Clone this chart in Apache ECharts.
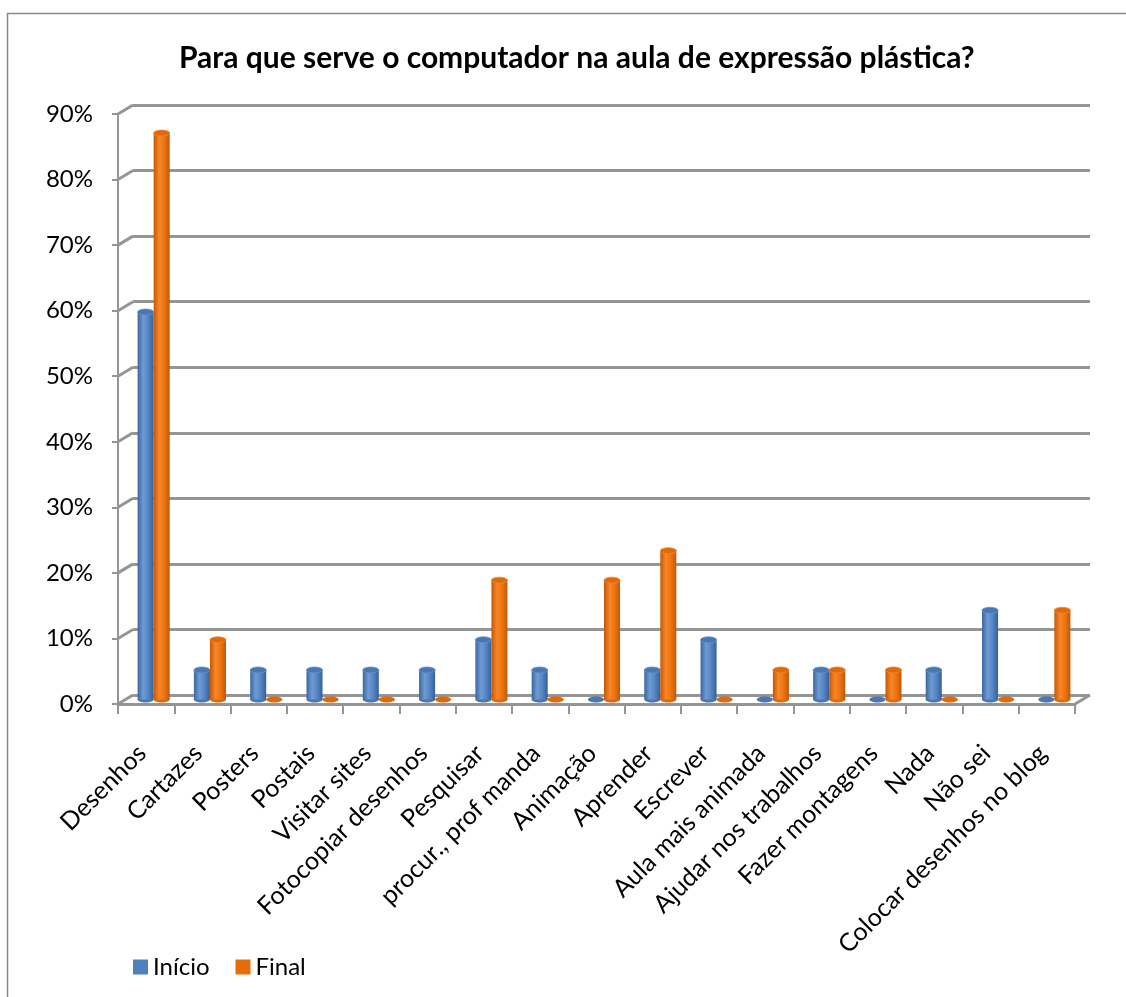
<!DOCTYPE html>
<html>
<head>
<meta charset="utf-8">
<script src="https://cdn.jsdelivr.net/npm/echarts@6/dist/echarts.min.js"></script>
<style>
  html, body { margin: 0; padding: 0; background: #ffffff; }
  #chart { width: 1126px; height: 997px; }
</style>
</head>
<body>
<div id="chart"></div>
<script>
// Survey answers, share of pupils (%), start vs end of the school year
const categories = [
  'Desenhos', 'Cartazes', 'Posters', 'Postais', 'Visitar sites', 'Fotocopiar desenhos',
  'Pesquisar', 'procur., prof manda', 'Animação', 'Aprender', 'Escrever',
  'Aula mais animada', 'Ajudar nos trabalhos', 'Fazer montagens', 'Nada', 'Não sei',
  'Colocar desenhos no blog'
];
const inicio = [59.1, 4.5, 4.5, 4.5, 4.5, 4.5, 9.1, 4.5, 0, 4.5, 9.1, 0, 4.5, 0, 4.5, 13.6, 0];
const finalVals = [86.4, 9.1, 0, 0, 0, 0, 18.2, 0, 18.2, 22.7, 0, 4.5, 4.5, 4.5, 0, 0, 13.6];
const yTicks = [0, 10, 20, 30, 40, 50, 60, 70, 80, 90];
const seriesNames = ['Início', 'Final'];

const FONT = 'Lato, "Open Sans", sans-serif';
const GRID_W = 957, GRID_H = 590;
const wallColor = '#959595';

// Cylinder fills for the two series
function cylFill(s) {
  if (s === 0) {
    return new echarts.graphic.LinearGradient(0, 0, 1, 0, [
      { offset: 0, color: '#3b66a0' },
      { offset: 0.35, color: '#6f9bd3' },
      { offset: 0.65, color: '#5686c4' },
      { offset: 1, color: '#35609a' }
    ]);
  }
  return new echarts.graphic.LinearGradient(0, 0, 1, 0, [
    { offset: 0, color: '#c45804' },
    { offset: 0.35, color: '#f8862a' },
    { offset: 0.65, color: '#ee7611' },
    { offset: 1, color: '#c25705' }
  ]);
}
const capColor = ['#4a77b3', '#e0690a'];
const legendColor = ['#4f81bd', '#e46c0a'];

function cylinderItem(s) {
  return function (params, api) {
    const idx = api.value(0);
    const v = api.value(1);
    const top = api.coord([idx, v]);
    const base = api.coord([idx, 0]);
    const band = api.size([1, 0])[0];
    const w = band * 0.285;
    const cx = top[0] + (s === 0 ? -w / 2 : w / 2);
    const ry = 3;
    const children = [];
    children.push({
      type: 'ellipse',
      shape: { cx: cx, cy: base[1], rx: w / 2, ry: ry },
      style: { fill: capColor[s] }
    });
    if (base[1] - top[1] > 0.5) {
      children.push({
        type: 'rect',
        shape: { x: cx - w / 2, y: top[1], width: w, height: base[1] - top[1] },
        style: { fill: cylFill(s) }
      });
      children.push({
        type: 'ellipse',
        shape: { cx: cx, cy: top[1], rx: w / 2, ry: ry },
        style: { fill: capColor[s], stroke: s === 0 ? '#6a94cb' : '#f38a33', lineWidth: 0.8 }
      });
    }
    return { type: 'group', children: children };
  };
}

// Short slanted strokes joining the front axis ticks to the back wall lines
function connectorItem(params, api) {
  const v = api.value(0);
  const p = api.coord([0, v]);
  const band = api.size([1, 0])[0];
  const x0 = p[0] - band / 2;
  const children = [{
    type: 'line',
    shape: { x1: x0, y1: p[1], x2: x0 + 15, y2: p[1] - 9 },
    style: { stroke: wallColor, lineWidth: 3 }
  }];
  if (v === 0) {
    const x1 = x0 + band * categories.length;
    children.push({
      type: 'line',
      shape: { x1: x1, y1: p[1], x2: x1 + 15, y2: p[1] - 9 },
      style: { stroke: wallColor, lineWidth: 3 }
    });
  }
  return { type: 'group', children: children };
}

const chart = echarts.init(document.getElementById('chart'), null, { renderer: 'canvas' });

const yBase = { type: 'value', min: 0, max: 90, interval: 10 };

chart.setOption({
  animation: false,
  backgroundColor: '#ffffff',
  title: {
    text: 'Para que serve o computador na aula de expressão plástica?',
    left: 174,
    top: 38,
    textStyle: { fontFamily: FONT, fontSize: 30, fontWeight: 'bold', color: '#000' }
  },
  legend: {
    data: seriesNames,
    left: 128,
    top: 950,
    icon: 'rect',
    itemWidth: 15,
    itemHeight: 15,
    itemGap: 26,
    textStyle: { fontFamily: FONT, fontSize: 24, color: '#000' }
  },
  graphic: [{
    type: 'rect',
    shape: { x: 7.5, y: 13.5, width: 1200, height: 1100 },
    style: { fill: 'none', stroke: '#8a8a8a', lineWidth: 1.5 },
    silent: true,
    z: -10
  }],
  grid: [
    { left: 133, top: 105, width: GRID_W, height: GRID_H },   // back wall
    { left: 125.5, top: 109.5, width: GRID_W, height: GRID_H }, // bar plane
    { left: 118, top: 114, width: GRID_W, height: GRID_H }    // front axes
  ],
  xAxis: [
    { gridIndex: 0, type: 'category', data: categories, show: false },
    { gridIndex: 1, type: 'category', data: categories, show: false },
    {
      gridIndex: 2, type: 'category', data: categories,
      axisLine: { lineStyle: { color: wallColor, width: 3 } },
      axisTick: { show: true, length: 10, lineStyle: { color: wallColor, width: 2 } },
      axisLabel: {
        interval: 0, rotate: 45, margin: 41, padding: [0, 6, 0, 0],
        fontFamily: FONT, fontSize: 25, color: '#000'
      }
    }
  ],
  yAxis: [
    Object.assign({ gridIndex: 0, axisLabel: { show: false }, axisLine: { show: false }, axisTick: { show: false },
      splitLine: { show: true, lineStyle: { color: wallColor, width: 3 } } }, yBase),
    Object.assign({ gridIndex: 1, show: false, splitLine: { show: false } }, yBase),
    Object.assign({ gridIndex: 2,
      axisLine: { show: true, lineStyle: { color: wallColor, width: 2 } },
      axisTick: { show: true, length: 6, lineStyle: { color: wallColor, width: 2 } },
      splitLine: { show: false },
      axisLabel: { formatter: '{value}%', margin: 25, fontFamily: FONT, fontSize: 24, color: '#000' }
    }, yBase)
  ],
  series: [
    {
      name: 'connectors', type: 'custom', xAxisIndex: 2, yAxisIndex: 2,
      data: yTicks.map(t => [t]), encode: { y: 0 },
      renderItem: connectorItem, clip: false, silent: true, z: 1
    },
    {
      name: seriesNames[0], type: 'custom', xAxisIndex: 1, yAxisIndex: 1,
      itemStyle: { color: legendColor[0] },
      data: inicio.map((v, i) => [i, v]), encode: { x: 0, y: 1 },
      renderItem: cylinderItem(0), clip: false, z: 3
    },
    {
      name: seriesNames[1], type: 'custom', xAxisIndex: 1, yAxisIndex: 1,
      itemStyle: { color: legendColor[1] },
      data: finalVals.map((v, i) => [i, v]), encode: { x: 0, y: 1 },
      renderItem: cylinderItem(1), clip: false, z: 4
    }
  ]
});
</script>
</body>
</html>
